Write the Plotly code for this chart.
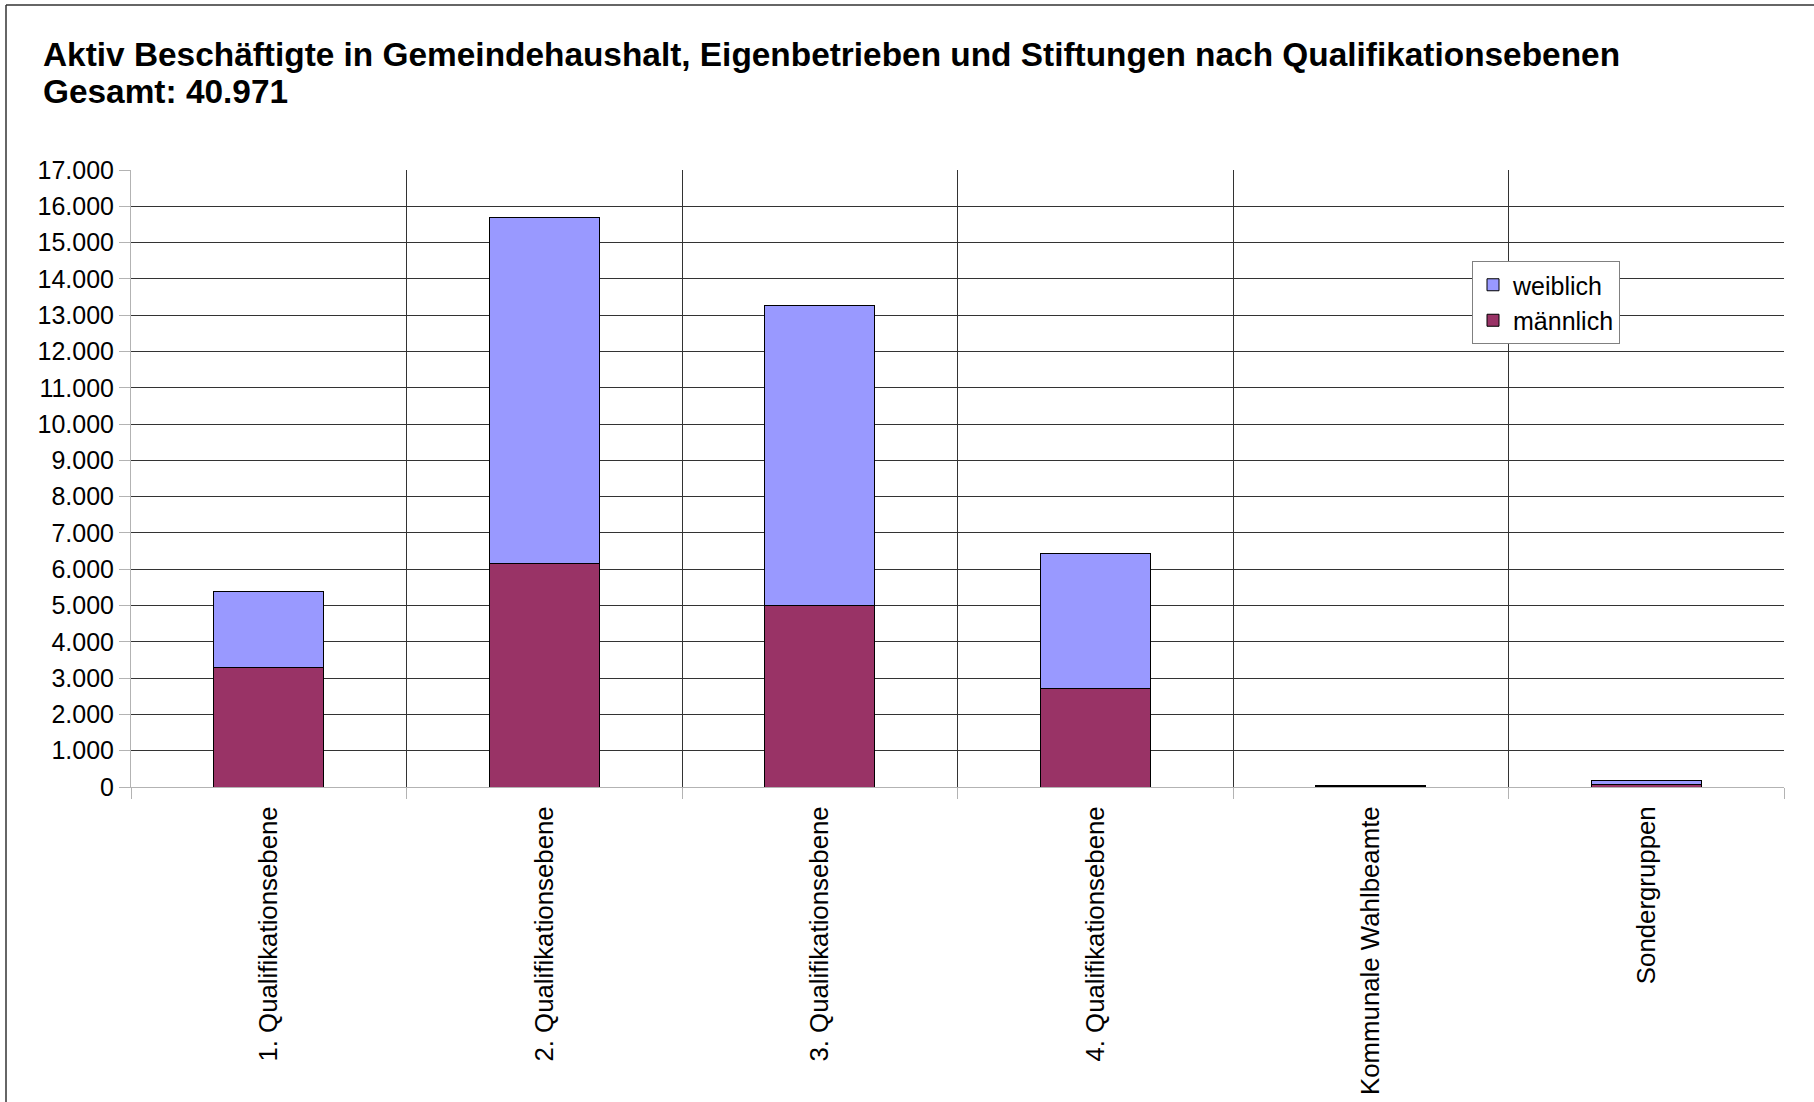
import plotly.graph_objects as go

categories = ["1. Qualifikationsebene", "2. Qualifikationsebene", "3. Qualifikationsebene",
              "4. Qualifikationsebene", "Kommunale Wahlbeamte", "Sondergruppen"]
maennlich = [3300, 6165, 4995, 2725, 25, 60]
weiblich = [2076, 9518, 8271, 3705, 5, 110]

title_lines = ["Aktiv Beschäftigte in Gemeindehaushalt, Eigenbetrieben und Stiftungen nach Qualifikationsebenen",
               "Gesamt: 40.971"]

C_W = "#9999FF"
C_M = "#993366"
FONT = "Liberation Sans"
GRID = "#333333"
AXIS = "#b3b3b3"

fig = go.Figure()
fig.add_trace(go.Bar(x=categories, y=maennlich, name="männlich", width=0.4,
                     marker=dict(color=C_M, line=dict(color="#000000", width=1))))
fig.add_trace(go.Bar(x=categories, y=weiblich, name="weiblich", width=0.4,
                     marker=dict(color=C_W, line=dict(color="#000000", width=1))))

W, H = 1814, 1102
L, R, T, B = 131, 30, 170, 315
pw, ph = W - L - R, H - T - B

def px(xp):
    return (xp - L) / pw

def py(yp):
    return (H - B - yp) / ph

annotations = []
for txt, yc in zip(title_lines, [54, 92]):
    annotations.append(dict(text="<b>" + txt + "</b>", xref="paper", yref="paper",
                            x=px(41), y=py(yc), xanchor="left", yanchor="middle",
                            showarrow=False, font=dict(family=FONT, size=33.4, color="#000000")))

fig.update_layout(
    width=W, height=H,
    margin=dict(l=L, r=R, t=T, b=B, autoexpand=False),
    barmode="stack",
    separators=",.",
    paper_bgcolor="white", plot_bgcolor="white",
    font=dict(family=FONT, size=25, color="#000000"),
    annotations=annotations,
    legend=dict(x=px(1472), y=py(261), xanchor="left", yanchor="top",
                bgcolor="white", bordercolor="#808080", borderwidth=1,
                traceorder="reversed", font=dict(size=25)),
    xaxis=dict(type="category", tickson="boundaries", showgrid=True, gridcolor=GRID, gridwidth=1,
               ticks="outside", ticklen=11, tickcolor=AXIS, tickangle=-90,
               showline=True, linecolor=AXIS, linewidth=1, range=[-0.5, 5.5],
               automargin=False, ticklabelstandoff=8, tickfont=dict(size=25.8)),
    xaxis2=dict(type="category", overlaying="x", anchor="y", side="bottom",
                categoryorder="array", categoryarray=categories,
                tickmode="array", tickvals=categories, range=[-0.5, 5.5],
                showgrid=False, showline=False, zeroline=False, automargin=False,
                ticks="outside", ticklen=8, tickcolor=AXIS, showticklabels=False),
    yaxis=dict(range=[0, 17000], dtick=1000, tickformat=",d", showgrid=True, gridcolor=GRID,
               gridwidth=1, ticks="outside", ticklen=11, tickcolor=AXIS,
               showline=True, linecolor=AXIS, linewidth=1, automargin=False,
               zeroline=True, zerolinecolor=AXIS, zerolinewidth=1,
               tickfont=dict(size=25)),
    shapes=[
        dict(type="line", xref="paper", yref="paper", x0=px(6), x1=px(W + 5), y0=py(5), y1=py(5),
             line=dict(color="#333333", width=1.5)),
        dict(type="line", xref="paper", yref="paper", x0=px(6), x1=px(6), y0=py(5), y1=py(H + 5),
             line=dict(color="#333333", width=1.5)),
    ],
)

fig.write_html("out.html", config={"displayModeBar": False},
               post_script="document.body.style.margin='0';")
